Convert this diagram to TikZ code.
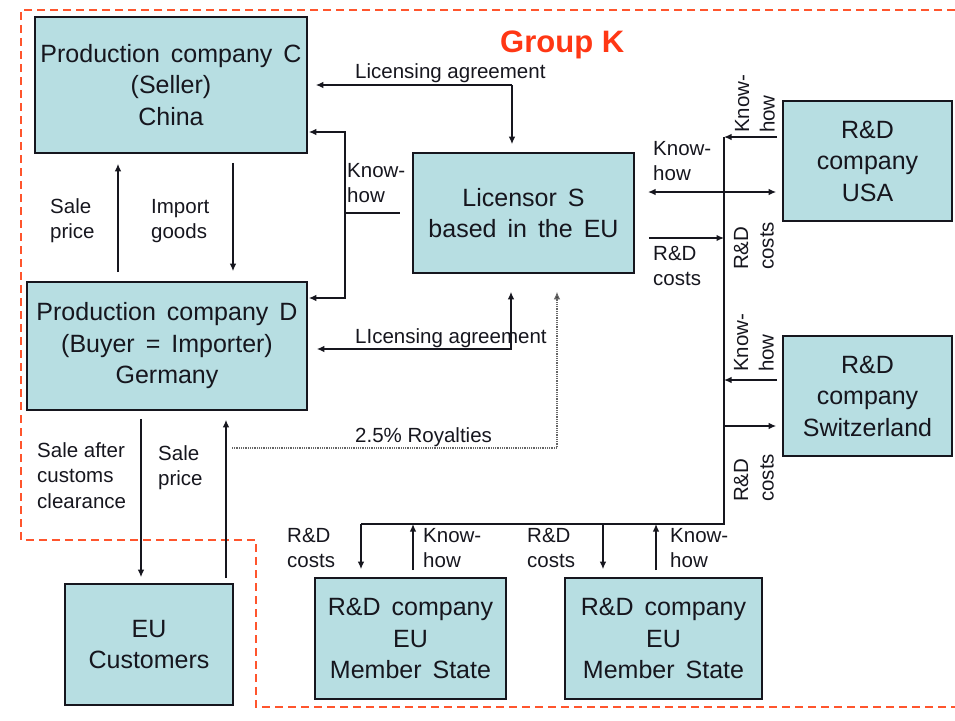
\documentclass[tikz,border=0pt]{standalone}
\usepackage{fontspec}
\setmainfont{Liberation Sans}
\usetikzlibrary{arrows.meta}
\definecolor{boxfill}{RGB}{183,222,226}
\definecolor{grpred}{RGB}{255,55,20}
\definecolor{dashred}{RGB}{255,85,45}
\definecolor{ink}{RGB}{22,22,30}
\newcommand\widewords{\spaceskip=11pt plus 2pt\relax}
\begin{document}
\begin{tikzpicture}[x=1pt,y=-1pt,
  cbox/.style={draw=ink, line width=1.6pt, fill=boxfill, inner sep=0pt, align=center,
    font=\fontsize{25}{31.5}\selectfont, text=ink, execute at begin node=\widewords},
  lbl/.style={inner sep=0pt, align=left, anchor=base west,
    font=\fontsize{20.5}{25.5}\selectfont, text=ink},
  rlbl/.style={lbl, rotate=90},
  tip/.tip={Latex[length=7.5pt,width=6.5pt]},
  arr/.style={line width=1.3pt, draw=ink, -tip},
  dblarr/.style={line width=1.3pt, draw=ink, tip-tip},
  plain/.style={line width=1.3pt, draw=ink},
  roy/.style={line width=1.1pt, draw=black!60, dash pattern=on 1pt off 0.8pt, -{Latex[length=7.5pt,width=6.5pt,fill=black!75]}},
  grp/.style={draw=dashred, line width=1.4pt, dash pattern=on 8pt off 5pt}]
\useasboundingbox (0,0) rectangle (955,720);

% group boundary
\draw[grp] (955,10) -- (21,10) -- (21,540) -- (256,540) -- (256,707) -- (955,707);
\node[font=\bfseries\fontsize{31}{36}\selectfont, text=grpred, anchor=base west, inner sep=0pt] (grpK) at (500,52) {Group K};

% boxes
\node[cbox, minimum width=272pt, minimum height=136pt] (C) at (171,85) {Production company C\\(Seller)\\China};
\node[cbox, minimum width=280pt, minimum height=128pt] (D) at (167,346) {Production company D\\(Buyer = Importer)\\Germany};
\node[cbox, minimum width=221pt, minimum height=120pt] (S) at (523.5,213) {Licensor S\\based in the EU};
\node[cbox, minimum width=169pt, minimum height=120pt] (USA) at (867.5,161) {R\&D\\company\\USA};
\node[cbox, minimum width=169pt, minimum height=120pt] (CH) at (867.5,396) {R\&D\\company\\Switzerland};
\node[cbox, minimum width=168pt, minimum height=121pt] (Cust) at (149,644.5) {EU\\Customers};
\node[cbox, minimum width=191pt, minimum height=121pt] (EUa) at (410.5,638.5) {R\&D company\\EU\\Member State};
\node[cbox, minimum width=197pt, minimum height=121pt] (EUb) at (663.5,638.5) {R\&D company\\EU\\Member State};

% coordinates
\coordinate (L1) at (512,85);
\coordinate (L2) at (511,349);
\coordinate (K1) at (345,213);
\coordinate (K1e) at (400,213);
\coordinate (KCt) at (345,132);
\coordinate (KDb) at (345,298);
\coordinate (SPx) at (118,0);
\coordinate (IGx) at (233,0);
\coordinate (SCx) at (141,0);
\coordinate (SLx) at (226,0);
\coordinate (R0) at (232,448);
\coordinate (Rx) at (557,0);
\coordinate (T1) at (724,137);
\coordinate (T2) at (724,524);
\coordinate (T3) at (724,238);
\coordinate (T4) at (724,380);
\coordinate (T5) at (724,426);
\coordinate (DA) at (648,192);
\coordinate (B1) at (361,524);
\coordinate (B2) at (413,524);
\coordinate (B3) at (603,524);
\coordinate (B4) at (656,524);

% licensing agreements
\draw[arr, shorten >=8pt] (L1) -- (L1 -| C.east);
\draw[arr, shorten >=8pt] (L1) -- (L1 |- S.north);
\draw[dblarr, shorten <=9pt, shorten >=18pt] (L2 -| D.east) -- (L2) -- (L2 |- S.south);
\node[lbl] (la1) at (355,78) {Licensing agreement};
\node[lbl] (la2) at (355,343) {LIcensing agreement};

% know-how to C and D
\draw[plain] (K1) -- (K1e);
\draw[arr, shorten >=1pt] (K1) -- (KCt) -- (KCt -| C.east);
\draw[arr, shorten >=1pt] (K1) -- (KDb) -- (KDb -| D.east);
\node[lbl] (kh1) at (347,202.5) {Know-\\how};

% C <-> D
\draw[arr, shorten <=9pt, shorten >=10pt] (D.north -| SPx) -- (C.south -| SPx);
\draw[arr, shorten <=9pt, shorten >=10pt] (C.south -| IGx) -- (D.north -| IGx);
\node[lbl] (sp1) at (50,238.5) {Sale\\price};
\node[lbl] (ig) at (151,238.5) {Import\\goods};

% royalties
\draw[roy, shorten >=18pt] (R0) -| (Rx |- S.south);
\node[lbl] (roy) at (355,442) {2.5\% Royalties};

% D <-> customers
\draw[arr, shorten <=8pt, shorten >=6pt] (D.south -| SCx) -- (Cust.north -| SCx);
\draw[arr, shorten <=5pt, shorten >=9pt] (Cust.north -| SLx) -- (D.south -| SLx);
\node[lbl] (sac) at (37,508) {Sale after\\customs\\clearance};
\node[lbl] (sp2) at (158,485.5) {Sale\\price};

% R&D network
\draw[plain] (T1) -- (T2) -- (B1);
\draw[arr, shorten <=5pt] (T1 -| USA.west) -- (T1);
\draw[dblarr, shorten <=0pt, shorten >=6pt] (DA) -- (DA -| USA.west);
\draw[arr, shorten <=14pt] (T3 -| S.east) -- (T3);
\draw[arr, shorten <=5pt] (T4 -| CH.west) -- (T4);
\draw[arr, shorten >=6pt] (T5) -- (T5 -| CH.west);
\draw[arr, shorten >=8pt] (B1) -- (B1 |- EUa.north);
\draw[arr, shorten <=7pt] (B2 |- EUa.north) -- (B2);
\draw[arr, shorten >=8pt] (B3) -- (B3 |- EUb.north);
\draw[arr, shorten <=7pt] (B4 |- EUb.north) -- (B4);

\node[lbl] (kh2) at (653,180.5) {Know-\\how};
\node[lbl] (rc1) at (653,285.5) {R\&D\\costs};
\node[rlbl] (kh3) at (774.5,133) {Know-\\how};
\node[rlbl] (rc2) at (773.5,270) {R\&D\\costs};
\node[rlbl] (kh4) at (773.5,372) {Know-\\how};
\node[rlbl] (rc3) at (773.5,502) {R\&D\\costs};
\node[lbl] (rc4) at (287,567.5) {R\&D\\costs};
\node[lbl] (kh5) at (423,567.5) {Know-\\how};
\node[lbl] (rc5) at (527,567.5) {R\&D\\costs};
\node[lbl] (kh6) at (670,567.5) {Know-\\how};
\end{tikzpicture}
\end{document}
